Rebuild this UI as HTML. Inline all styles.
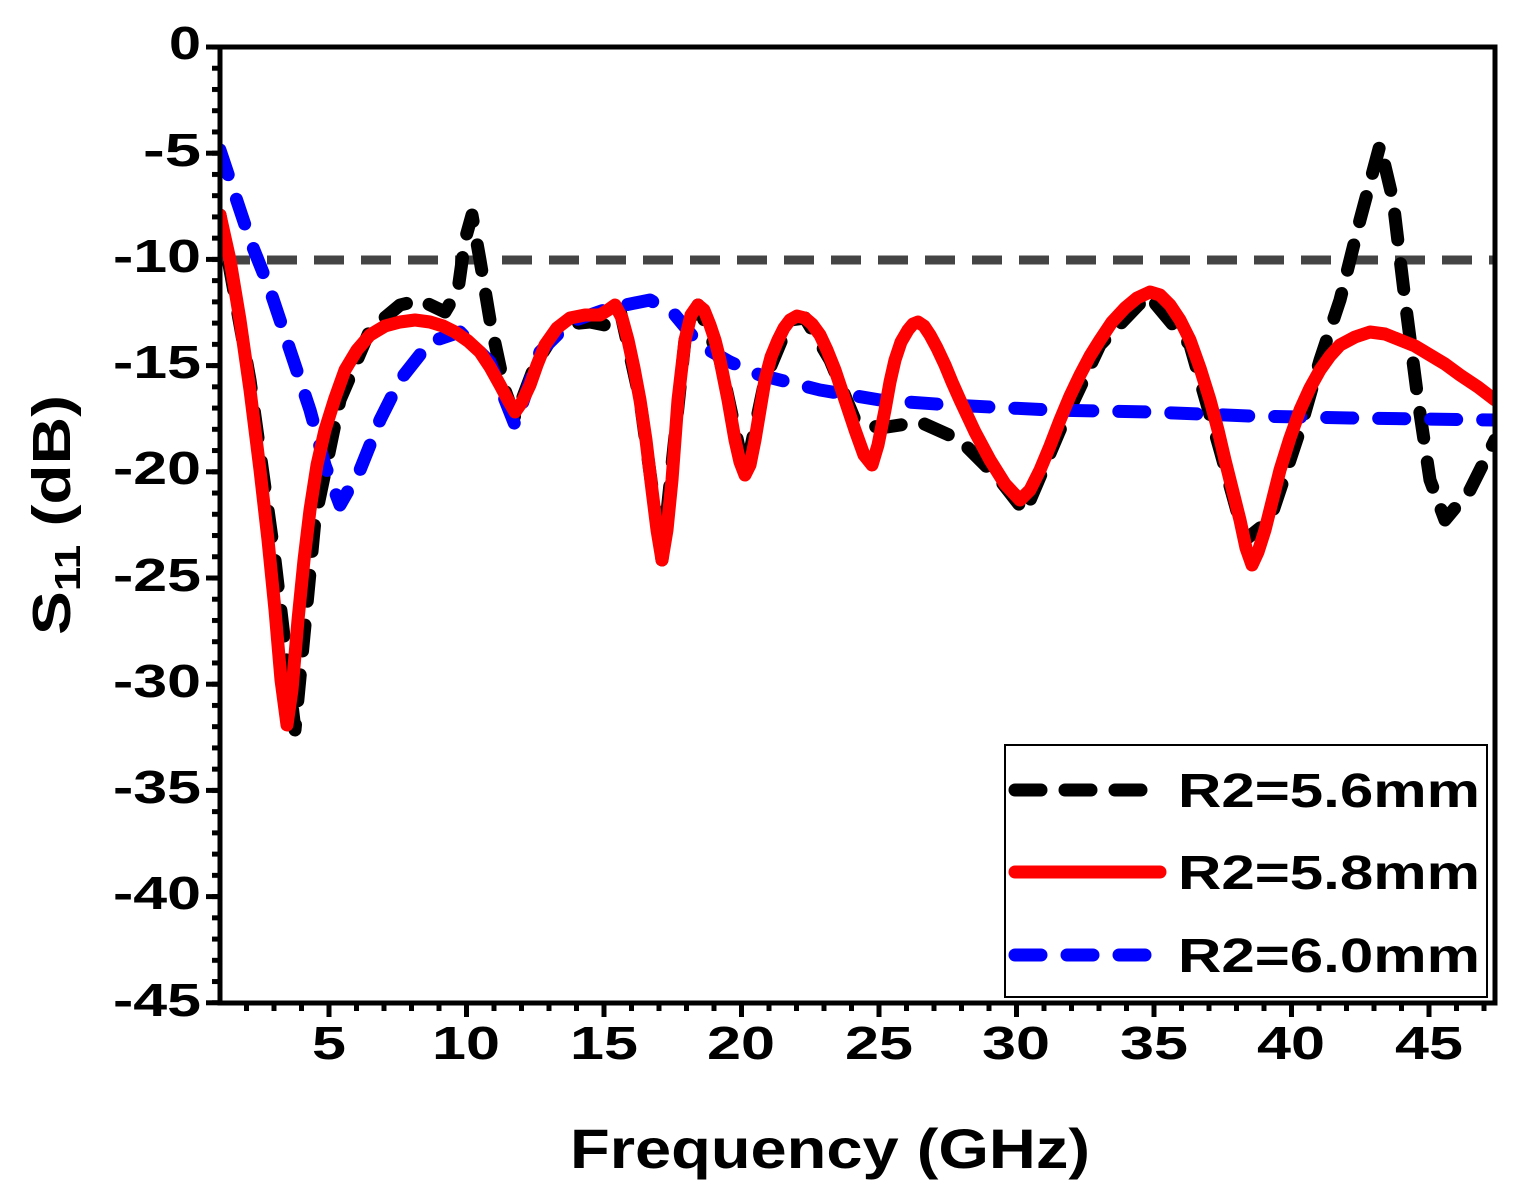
<!DOCTYPE html>
<html><head><style>body{margin:0;background:#fff}svg{display:block}text{font-family:"Liberation Sans",Arial,sans-serif;font-weight:bold}</style></head>
<body>
<svg width="1514" height="1192" viewBox="0 0 1514 1192" xmlns="http://www.w3.org/2000/svg">
<defs>
<clipPath id="c"><rect x="220" y="47" width="1275" height="956"/></clipPath>
<pattern id="px" patternUnits="userSpaceOnUse" x="189" y="0" width="27.5" height="2000"><rect x="0" y="0" width="5" height="2000" fill="#000"/></pattern>
<pattern id="py" patternUnits="userSpaceOnUse" x="0" y="44.5" width="2000" height="21.24"><rect x="0" y="0" width="2000" height="5" fill="#000"/></pattern>
</defs>
<g clip-path="url(#c)" fill="none" stroke-linecap="round" stroke-linejoin="round">
<line x1="220" y1="260" x2="1495" y2="260" stroke="#444" stroke-width="9" stroke-dasharray="30 17" stroke-linecap="butt"/>
<polyline stroke="#000" stroke-width="13" stroke-dasharray="26 24" points="220,215 250,380 275,560 295,730 315,520 340,400 370,330 400,305 420,300 445,312 458,290 465,240 472,215 480,260 490,320 505,390 515,418 535,365 560,325 590,322 605,325 620,310 640,400 662,560 685,340 698,305 720,360 745,475 765,380 790,320 805,318 830,360 855,420 880,428 920,422 960,440 1000,480 1025,512 1060,430 1100,345 1148,295 1190,345 1220,450 1245,540 1270,520 1300,430 1320,360 1340,300 1360,220 1380,145 1393,200 1405,300 1418,400 1430,480 1445,520 1470,490 1495,440"/>
<polyline stroke="#0000ff" stroke-width="13" stroke-dasharray="26 26" points="220,150 250,240 270,290 290,350 310,410 325,465 340,505 360,470 380,420 400,380 430,342 460,332 490,362 515,425 540,352 570,322 610,308 650,300 675,315 700,345 730,362 760,375 820,390 880,400 950,405 1050,410 1150,412 1250,416 1350,418 1495,420"/>
<polyline stroke="#ff0000" stroke-width="13" points="220,215 230,260 240,320 250,390 260,470 268,540 275,610 281,680 287,725 292,690 298,620 304,560 310,510 317,465 325,430 335,398 345,370 357,350 370,335 385,326 400,322 415,320 430,322 443,326 455,332 468,341 480,352 490,367 500,385 508,400 515,412 522,402 530,385 537,365 545,345 557,328 570,318 585,315 600,315 608,310 615,305 622,318 628,340 634,368 640,400 646,440 652,490 657,530 662,560 667,530 672,480 678,400 685,340 691,315 698,305 704,310 710,325 715,340 720,360 728,400 735,440 740,462 745,475 750,465 755,440 760,410 765,380 771,357 778,340 784,328 790,320 797,316 805,318 812,324 820,335 827,350 835,370 845,400 855,430 864,455 872,465 878,445 885,410 890,382 895,360 901,342 908,330 913,324 918,322 924,326 930,335 937,348 945,365 952,382 960,400 975,432 990,460 1005,484 1020,500 1030,490 1040,470 1050,446 1060,420 1070,396 1080,375 1090,356 1100,340 1112,322 1125,308 1137,298 1150,292 1160,295 1170,305 1180,320 1190,340 1200,368 1210,400 1218,430 1225,460 1233,492 1240,520 1246,548 1252,565 1258,552 1265,530 1272,502 1280,470 1290,438 1300,410 1310,388 1320,370 1330,356 1340,345 1355,337 1370,332 1385,334 1400,340 1415,346 1430,355 1445,364 1460,375 1478,387 1495,400"/>
</g>
<rect x="220" y="47" width="1275" height="956" fill="none" stroke="#000" stroke-width="5"/>
<rect x="222" y="1003" width="1273" height="8" fill="url(#px)"/>
<rect x="212" y="47" width="8" height="958" fill="url(#py)"/>
<g stroke="#000" stroke-width="5">
<line x1="329" y1="1003" x2="329" y2="1017"/><line x1="466.5" y1="1003" x2="466.5" y2="1017"/><line x1="604" y1="1003" x2="604" y2="1017"/><line x1="741.5" y1="1003" x2="741.5" y2="1017"/><line x1="879" y1="1003" x2="879" y2="1017"/><line x1="1016.5" y1="1003" x2="1016.5" y2="1017"/><line x1="1154" y1="1003" x2="1154" y2="1017"/><line x1="1291.5" y1="1003" x2="1291.5" y2="1017"/><line x1="1429" y1="1003" x2="1429" y2="1017"/>
<line x1="206" y1="47" x2="220" y2="47"/><line x1="206" y1="153.2" x2="220" y2="153.2"/><line x1="206" y1="259.4" x2="220" y2="259.4"/><line x1="206" y1="365.6" x2="220" y2="365.6"/><line x1="206" y1="471.8" x2="220" y2="471.8"/><line x1="206" y1="578" x2="220" y2="578"/><line x1="206" y1="684.2" x2="220" y2="684.2"/><line x1="206" y1="790.4" x2="220" y2="790.4"/><line x1="206" y1="896.6" x2="220" y2="896.6"/><line x1="206" y1="1002.8" x2="220" y2="1002.8"/>
</g>
<g font-size="46" text-anchor="end" fill="#000" lengthAdjust="spacingAndGlyphs">
<text x="201" y="59" textLength="32" lengthAdjust="spacingAndGlyphs">0</text>
<text x="201" y="166" textLength="58" lengthAdjust="spacingAndGlyphs">-5</text>
<text x="201" y="272" textLength="88" lengthAdjust="spacingAndGlyphs">-10</text>
<text x="201" y="378" textLength="88" lengthAdjust="spacingAndGlyphs">-15</text>
<text x="201" y="484" textLength="88" lengthAdjust="spacingAndGlyphs">-20</text>
<text x="201" y="591" textLength="88" lengthAdjust="spacingAndGlyphs">-25</text>
<text x="201" y="697" textLength="88" lengthAdjust="spacingAndGlyphs">-30</text>
<text x="201" y="803" textLength="88" lengthAdjust="spacingAndGlyphs">-35</text>
<text x="201" y="909" textLength="88" lengthAdjust="spacingAndGlyphs">-40</text>
<text x="201" y="1016" textLength="88" lengthAdjust="spacingAndGlyphs">-45</text>
</g>
<g font-size="46" fill="#000">
<text x="312" y="1059" textLength="34" lengthAdjust="spacingAndGlyphs">5</text>
<text x="432" y="1059" textLength="68" lengthAdjust="spacingAndGlyphs">10</text>
<text x="570" y="1059" textLength="68" lengthAdjust="spacingAndGlyphs">15</text>
<text x="707" y="1059" textLength="68" lengthAdjust="spacingAndGlyphs">20</text>
<text x="845" y="1059" textLength="68" lengthAdjust="spacingAndGlyphs">25</text>
<text x="982" y="1059" textLength="68" lengthAdjust="spacingAndGlyphs">30</text>
<text x="1120" y="1059" textLength="68" lengthAdjust="spacingAndGlyphs">35</text>
<text x="1257" y="1059" textLength="68" lengthAdjust="spacingAndGlyphs">40</text>
<text x="1395" y="1059" textLength="68" lengthAdjust="spacingAndGlyphs">45</text>
</g>
<text x="570" y="1168" font-size="56" textLength="520" lengthAdjust="spacingAndGlyphs">Frequency (GHz)</text>
<text transform="translate(70,635) rotate(-90)" font-size="54" textLength="240" lengthAdjust="spacingAndGlyphs">S<tspan font-size="36" dy="10">11</tspan><tspan dy="-10"> (dB)</tspan></text>
<rect x="1005" y="745" width="482" height="252" fill="#fff" stroke="#000" stroke-width="2"/>
<g fill="none" stroke-linecap="round" stroke-width="13">
<line x1="1015" y1="790" x2="1160" y2="790" stroke="#000" stroke-dasharray="26 24"/>
<line x1="1015" y1="872" x2="1160" y2="872" stroke="#ff0000"/>
<line x1="1015" y1="955" x2="1160" y2="955" stroke="#0000ff" stroke-dasharray="26 26"/>
</g>
<g font-size="48" fill="#000">
<text x="1178" y="807" textLength="302" lengthAdjust="spacingAndGlyphs">R2=5.6mm</text>
<text x="1178" y="889" textLength="302" lengthAdjust="spacingAndGlyphs">R2=5.8mm</text>
<text x="1178" y="972" textLength="302" lengthAdjust="spacingAndGlyphs">R2=6.0mm</text>
</g>
</svg>
</body></html>
